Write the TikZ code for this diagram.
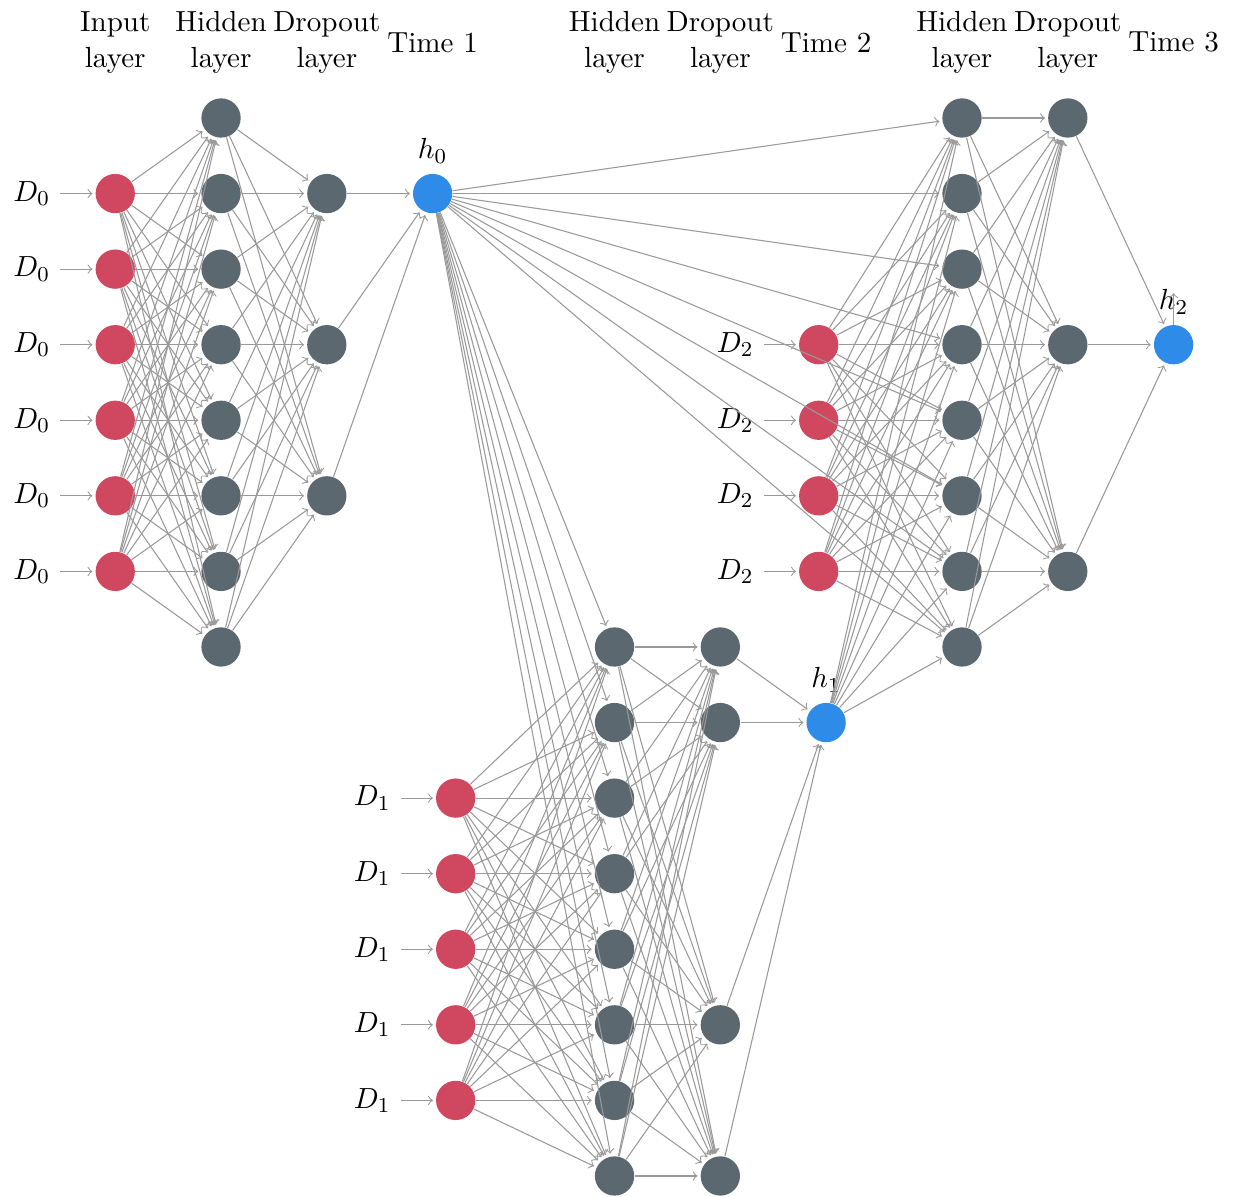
\documentclass[tikz,border=0pt,11pt]{standalone}
\usepackage{tikz}
\usetikzlibrary{calc,positioning}
\definecolor{inred}{HTML}{D0485F}
\definecolor{hidgray}{HTML}{5C6870}
\definecolor{stateblue}{HTML}{2E8BE8}

\begin{document}
\begin{tikzpicture}[
        neuron/.style={circle, minimum size=0.52cm, inner sep=0pt},
        input neuron/.style={neuron, fill=inred},
        hidden neuron/.style={neuron, fill=hidgray},
        state neuron/.style={neuron, fill=stateblue},
        annot/.style={text width=4em, align=center},
        conn/.style={->, draw=black!40, shorten >=1pt},
    ]
    \useasboundingbox (0, 1.5615) rectangle (16.356, -14.278);

    % Nodes
    % Time 1: input rows 1-6, hidden rows 0-7, dropout rows 1 3 5
    \foreach \y in {1,...,6}
        \node[input neuron] (I0-\y) at (1.525, -\y) {};
    \foreach \y in {0,...,7}
        \node[hidden neuron] (H0-\y) at (2.925, -\y) {};
    \foreach \y [count=\i] in {1,3,5}
        \node[hidden neuron] (P0-\i) at (4.325, -\y) {};
    \node[state neuron] (h0) at (5.725, -1) {};

    % Time 2: input rows 9-13, hidden rows 7-14, dropout rows 7 8 12 14
    \foreach \y [count=\i] in {9,...,13}
        \node[input neuron] (I1-\i) at (6.03, -\y) {};
    \foreach \y [count=\i] in {7,...,14}
        \node[hidden neuron] (H1-\i) at (8.132, -\y) {};
    \foreach \y [count=\i] in {7,8,12,14}
        \node[hidden neuron] (P1-\i) at (9.532, -\y) {};
    \node[state neuron] (h1) at (10.932, -8) {};

    % Time 3: input rows 3-6, hidden rows 0-7, dropout rows 0 3 6
    \foreach \y [count=\i] in {3,...,6}
        \node[input neuron] (I2-\i) at (10.834, -\y) {};
    \foreach \y [count=\i] in {0,...,7}
        \node[hidden neuron] (H2-\i) at (12.73, -\y) {};
    \foreach \y [count=\i] in {0,3,6}
        \node[hidden neuron] (P2-\i) at (14.13, -\y) {};
    \node[state neuron] (h2) at (15.53, -3) {};

    % Labels
    \foreach \y in {1,...,6}
        \node[left=0.46cm of I0-\y] (D0-\y) {$D_0$};
    \foreach \i in {1,...,5}
        \node[left=0.46cm of I1-\i] (D1-\i) {$D_1$};
    \foreach \i in {1,...,4}
        \node[left=0.46cm of I2-\i] (D2-\i) {$D_2$};
    \node[above=0pt of h0] (h0-lbl) {$h_0$};
    \node[above=0pt of h1] (h1-lbl) {$h_1$};
    \node[above=0pt of h2] (h2-lbl) {$h_2$};
    \coordinate[above=0.45cm of h2] (h2-out);

    \node[annot] (in-ann) at (1.525, 1) {Input layer};
    \node[annot] (hid0-ann) at (2.925, 1) {Hidden layer};
    \node[annot] (drop0-ann) at (4.325, 1) {Dropout layer};
    \node[annot] (t1-ann) at (5.725, 1) {Time 1};
    \node[annot] (hid1-ann) at (8.132, 1) {Hidden layer};
    \node[annot] (drop1-ann) at (9.532, 1) {Dropout layer};
    \node[annot] (t2-ann) at (10.932, 1) {Time 2};
    \node[annot] (hid2-ann) at (12.73, 1) {Hidden layer};
    \node[annot] (drop2-ann) at (14.13, 1) {Dropout layer};
    \node[annot] (t3-ann) at (15.53, 1) {Time 3};

    % Connections, time 1
    \foreach \y in {1,...,6}
        \draw[conn] (D0-\y) -- (I0-\y);
    \foreach \s in {1,...,6}
        \foreach \d in {0,...,7}
            \draw[conn] (I0-\s) -- (H0-\d);
    \foreach \s in {0,...,7}
        \foreach \d in {1,2,3}
            \draw[conn] (H0-\s) -- (P0-\d);
    \foreach \s in {1,2,3}
        \draw[conn] (P0-\s) -- (h0);

    % Connections, time 2
    \foreach \i in {1,...,5}
        \draw[conn] (D1-\i) -- (I1-\i);
    \foreach \d in {1,...,8}
        \draw[conn] (h0) -- (H1-\d);
    \foreach \s in {1,...,5}
        \foreach \d in {1,...,8}
            \draw[conn] (I1-\s) -- (H1-\d);
    \foreach \s in {1,...,8}
        \foreach \d in {1,...,4}
            \draw[conn] (H1-\s) -- (P1-\d);
    \foreach \s in {1,...,4}
        \draw[conn] (P1-\s) -- (h1);

    % Connections, time 3
    \foreach \i in {1,...,4}
        \draw[conn] (D2-\i) -- (I2-\i);
    \foreach \d in {1,...,8} {
        \draw[conn] (h0) -- (H2-\d);
        \draw[conn] (h1) -- (H2-\d);
    }
    \foreach \s in {1,...,4}
        \foreach \d in {1,...,8}
            \draw[conn] (I2-\s) -- (H2-\d);
    \foreach \s in {1,...,8}
        \foreach \d in {1,2,3}
            \draw[conn] (H2-\s) -- (P2-\d);
    \foreach \s in {1,2,3}
        \draw[conn] (P2-\s) -- (h2);
    \draw[conn] (h2) -- (h2-out);

\end{tikzpicture}
\end{document}
